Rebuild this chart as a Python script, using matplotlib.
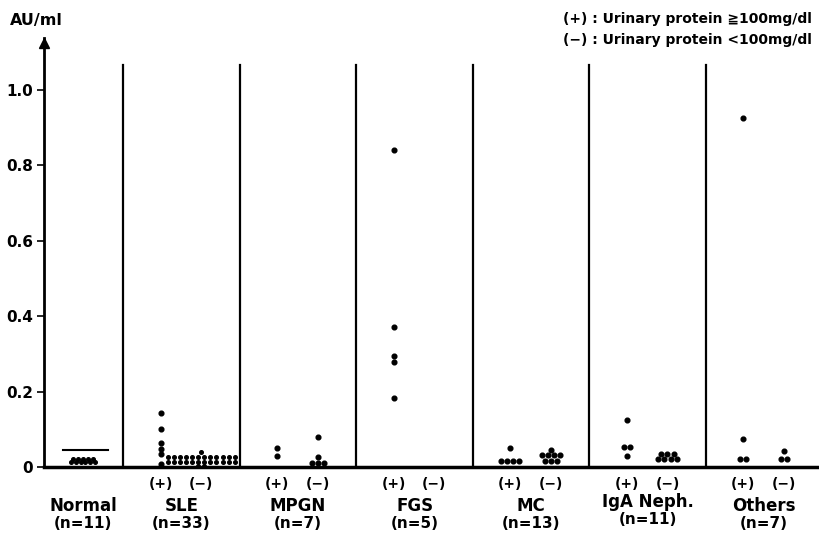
import matplotlib
matplotlib.use("Agg")
import matplotlib.pyplot as plt
import numpy as np

# groups, left to right
groups = ["Normal", "SLE", "MPGN", "FGS", "MC", "IgA Neph.", "Others"]
group_n = ["(n=11)", "(n=33)", "(n=7)", "(n=5)", "(n=13)", "(n=11)", "(n=7)"]

# values in AU/ml
normal_vals = [0.021] * 5 + [0.013] * 6
normal_mean = 0.045

plus_vals = {
    "SLE": [0.143, 0.100, 0.064, 0.048, 0.034, 0.008],
    "MPGN": [0.050, 0.030],
    "FGS": [0.841, 0.371, 0.294, 0.278, 0.183],
    "MC": [0.050] + [0.016] * 4,
    "IgA Neph.": [0.125, 0.053, 0.053, 0.029],
    "Others": [0.926, 0.074, 0.021, 0.021],
}
minus_vals = {
    "SLE": [0.040] + [0.027] * 12 + [0.013] * 12 + [0.003] * 2,
    "MPGN": [0.080, 0.027] + [0.010] * 3,
    "FGS": [],
    "MC": [0.045] + [0.032] * 4 + [0.016] * 3,
    "IgA Neph.": [0.035] * 3 + [0.021] * 4,
    "Others": [0.043, 0.021, 0.021],
}

yticks = [0, 0.2, 0.4, 0.6, 0.8, 1.0]
ytick_labels = ["0", "0.2", "0.4", "0.6", "0.8", "1.0"]

W, H = 819, 546
fig = plt.figure(figsize=(W / 100, H / 100), dpi=100)
# axes box in pixels: x 44..819, y 467 (zero) .. 38 (top of arrow)
ax = fig.add_axes([44 / W, (H - 467) / H, (W - 44) / W, (467 - 38) / H])
ax.set_xlim(0, 6.65)
ax.set_ylim(0, 1.138)

for s in ["top", "right"]:
    ax.spines[s].set_visible(False)
ax.spines["left"].set_linewidth(2)
ax.spines["bottom"].set_linewidth(2.5)
ax.set_xticks([])
ax.set_yticks(yticks)
ax.set_yticklabels(ytick_labels, fontsize=11, fontweight="bold")
ax.tick_params(axis="y", direction="out", length=5, width=1.2, pad=3)

# arrow head on y axis
ax.plot([0], [1.125], marker="^", markersize=7, color="black", clip_on=False)

seps = [0.68 + k for k in range(6)]
for s in seps:
    ax.plot([s, s], [0, 1.066], color="black", lw=1.6)


def draw_row(center, vals, spacing=0.052, ms=3.2):
    # identical values go side by side
    uniq = []
    for v in vals:
        if v not in uniq:
            uniq.append(v)
    for v in uniq:
        k = vals.count(v)
        xs = center + (np.arange(k) - (k - 1) / 2) * spacing
        ax.plot(xs, [v] * k, "o", color="black", markersize=ms, clip_on=False)


# Normal
draw_row(0.335, normal_vals, spacing=0.042, ms=2.6)
ax.plot([0.163, 0.55], [normal_mean, normal_mean], color="black", lw=1.5)

for i, g in enumerate(groups[1:]):
    s = seps[i]
    ms = 2.6 if g == "SLE" else 3.4
    draw_row(s + 0.32, plus_vals[g], ms=3.4)
    draw_row(s + 0.67, minus_vals[g], spacing=0.052, ms=ms)
    ax.text(s + 0.32, -0.045, "(+)", ha="center", va="center",
            fontsize=10, fontweight="bold", clip_on=False)
    ax.text(s + 0.67, -0.045, "(\u2212)", ha="center", va="center",
            fontsize=10, fontweight="bold", clip_on=False)

centers = [0.335] + [s + 0.5 for s in seps]
for i, (g, n) in enumerate(zip(groups, group_n)):
    y1, y2 = (-0.093, -0.138) if g == "IgA Neph." else (-0.103, -0.151)
    ax.text(centers[i], y1, g, ha="center", va="center",
            fontsize=12, fontweight="bold", clip_on=False)
    ax.text(centers[i], y2, n, ha="center", va="center",
            fontsize=11, fontweight="bold", clip_on=False)

fig.text(10 / W, 1 - 20 / H, "AU/ml", ha="left", va="center",
         fontsize=11.5, fontweight="bold")
fig.text(563 / W, 1 - 19 / H, "(+) : Urinary protein \u2267100mg/dl",
         ha="left", va="center", fontsize=10, fontweight="bold")
fig.text(563 / W, 1 - 40 / H, "(\u2212) : Urinary protein <100mg/dl",
         ha="left", va="center", fontsize=10, fontweight="bold")

fig.savefig("out.png", dpi=100, facecolor="white")
